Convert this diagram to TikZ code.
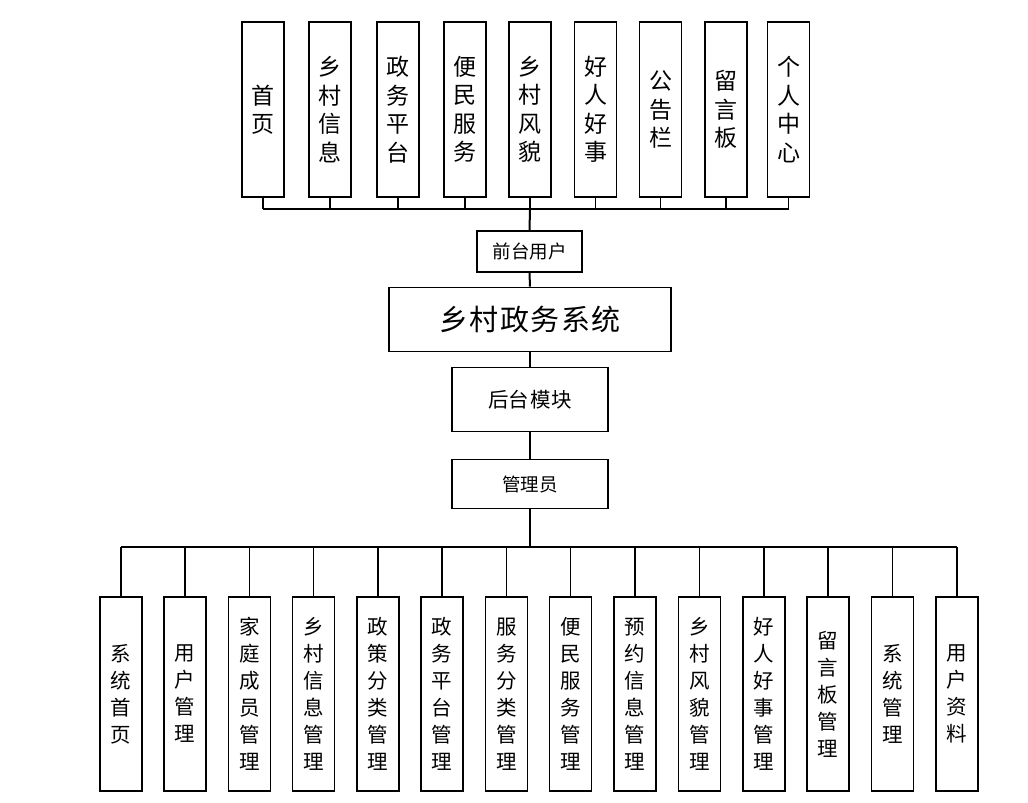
\documentclass[tikz,border=0pt]{standalone}
\usepackage{fontspec}
\newfontfamily\cjk{Noto Sans CJK SC}
\begin{document}
\begin{tikzpicture}[x=1pt,y=-1pt,
  box/.style={draw=black,line width=1.6pt,fill=white,inner sep=0pt,align=center,font=\cjk},
  topbox/.style={box,minimum width=42pt,minimum height=175pt,font=\cjk\fontsize{23}{28.5}\selectfont},
  botbox/.style={box,minimum width=42pt,minimum height=194pt,font=\cjk\fontsize{20.5}{27}\selectfont},
  link/.style={draw=black,line width=1.6pt},
  bus/.style={draw=black,line width=2pt}]
\useasboundingbox (0,0) rectangle (1028,803);
% top boxes
\foreach \n/\x/\t in {t1/263/{首\\页},t2/330/{乡\\村\\信\\息},t3/398/{政\\务\\平\\台},t4/465/{便\\民\\服\\务},t5/530/{乡\\村\\风\\貌},t6/595.5/{好\\人\\好\\事},t7/660.5/{公\\告\\栏},t8/726/{留\\言\\板},t9/788.5/{个\\人\\中\\心}}
  \node[topbox] (\n) at (\x,109.5) {\t};
\node[box,minimum width=105pt,minimum height=41pt,font=\cjk\fontsize{18.5}{22}\selectfont] (front) at (529.5,251.5) {前台用户};
\node[box,minimum width=282pt,minimum height=64pt,font=\cjk\fontsize{29}{34}\selectfont] (sys) at (530,319.5) {乡\hspace{1.5pt}村\hspace{1.5pt}政\hspace{1.5pt}务\hspace{1.5pt}系\hspace{1.5pt}统};
\node[box,minimum width=156pt,minimum height=64pt,font=\cjk\fontsize{20.5}{24}\selectfont] (back) at (530,399.5) {后台\hspace{2pt}模块};
\node[box,minimum width=156pt,minimum height=49pt,font=\cjk\fontsize{18.5}{22}\selectfont] (admin) at (530,484) {管理员};
% bottom boxes
\foreach \n/\x/\t in {b1/121/{系\\统\\首\\页},b2/185/{用\\户\\管\\理},b3/249.5/{家\\庭\\成\\员\\管\\理},b4/313.5/{乡\\村\\信\\息\\管\\理},b5/378/{政\\策\\分\\类\\管\\理},b6/442/{政\\务\\平\\台\\管\\理},b7/506.5/{服\\务\\分\\类\\管\\理},b8/570.5/{便\\民\\服\\务\\管\\理},b9/635/{预\\约\\信\\息\\管\\理},b10/699.5/{乡\\村\\风\\貌\\管\\理},b11/764/{好\\人\\好\\事\\管\\理},b12/828/{留\\言\\板\\管\\理},b13/892.5/{系\\统\\管\\理},b14/957/{用\\户\\资\\料}}
  \node[botbox] (\n) at (\x,694) {\t};
% connectors top
\coordinate (tbus) at (530,209);
\draw[bus] (t1.south |- tbus) -- (t9.south |- tbus);
\foreach \n in {t1,t2,t3,t4,t5,t6,t7,t8,t9}
  \draw[link] (\n.south) -- (\n.south |- tbus);
\draw[bus] (tbus) -- (front.north);
\draw[bus] (front.south) -- (sys.north);
\draw[bus] (sys.south) -- (back.north);
\draw[bus] (back.south) -- (admin.north);
% connectors bottom
\coordinate (bbus) at (530,547);
\draw[bus] (admin.south) -- (bbus);
\draw[bus] (b1.north |- bbus) -- (b14.north |- bbus);
\foreach \n in {b1,b2,b3,b4,b5,b6,b7,b8,b9,b10,b11,b12,b13,b14}
  \draw[link] (\n.north |- bbus) -- (\n.north);
\end{tikzpicture}
\end{document}
